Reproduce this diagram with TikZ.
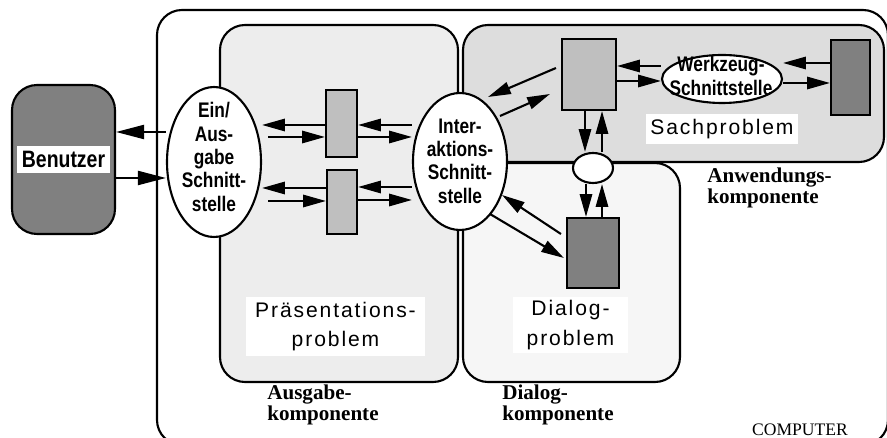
\documentclass[tikz,border=0pt]{standalone}
\usepackage{fontspec}
\setmainfont{Liberation Serif}
\newfontfamily\schmal[FakeStretch=0.82]{Liberation Sans}
\newfontfamily\weit[LetterSpace=9]{Liberation Sans}
\usetikzlibrary{calc}
\usetikzlibrary{shapes,arrows.meta}

\definecolor{dunkel}{gray}{0.5}
\definecolor{mittel}{gray}{0.75}
\definecolor{praesgrau}{gray}{0.93}
\definecolor{sachgrau}{gray}{0.865}
\definecolor{dialoggrau}{gray}{0.965}

\tikzset{
  pfeil/.style={line width=1.2pt,-{Triangle[length=13pt,width=7pt]}},
  grosspfeil/.style={line width=1.2pt,-{Triangle[length=16pt,width=8pt]}},
  kasten/.style={draw,line width=1.2pt,rounded corners=0.5cm},
  block/.style={draw,line width=1.2pt,rectangle,inner sep=0pt},
  oval/.style={draw,line width=1.2pt,ellipse,fill=white,inner sep=0pt},
  ovaltext/.style={align=center,inner sep=0pt,font=\schmal\bfseries\fontsize{12}{13.3}\selectfont},
  problem/.style={fill=white,align=center,inner sep=0pt,font=\weit\fontsize{12}{17}\selectfont},
  komp/.style={anchor=west,align=left,inner sep=0pt,font=\bfseries\fontsize{12}{10.8}\selectfont}
}

\begin{document}
\begin{tikzpicture}[x=0.02cm,y=-0.02cm]
    \useasboundingbox (0,0) rectangle (887,438);
    \draw [kasten] (157,10) rectangle (888,445);
    \draw [kasten,fill=praesgrau] (220,25) rectangle (458,382);
    \draw [kasten,fill=sachgrau] (463,25) rectangle (884,162);
    \draw [kasten,fill=dialoggrau] (463,163) rectangle (680,382);
    \node [kasten,fill=dunkel,minimum width=2.06cm,minimum height=2.98cm,inner sep=0pt]
      (benutzer) at (63.5,159.5)
      {\colorbox{white}{\schmal\bfseries\fontsize{13.5}{15}\selectfont Benutzer}};
    \node [oval,minimum width=1.88cm,minimum height=3cm] (eaus) at (214,162) {};
    \node [ovaltext] (eaustext) at (214,157) {Ein/\\Aus-\\gabe\\Schnitt-\\stelle};
    \node [oval,minimum width=1.88cm,minimum height=2.74cm] (inter) at (460,161.5) {};
    \node [ovaltext] (intertext) at (460,161) {Inter-\\aktions-\\Schnitt-\\stelle};
    \node [oval,minimum width=2.4cm,minimum height=0.96cm] (werkzeug) at (722,79) {};
    \node [ovaltext] (werkzeugtext) at (721,76) {Werkzeug-\\Schnittstelle};
    \node [oval,minimum width=0.8cm,minimum height=0.6cm] (knoten) at (593,168) {};
    \node [block,fill=mittel,minimum width=0.62cm,minimum height=1.34cm] (praes1) at (341.5,123.5) {};
    \node [block,fill=mittel,minimum width=0.6cm,minimum height=1.28cm] (praes2) at (342,202) {};
    \node [block,fill=mittel,minimum width=1.08cm,minimum height=1.42cm] (sach) at (589,74.5) {};
    \node [block,fill=dunkel,minimum width=0.78cm,minimum height=1.5cm] (werk) at (850.5,77.5) {};
    \node [block,fill=dunkel,minimum width=1.04cm,minimum height=1.4cm] (dialog) at (593,253) {};
    \node [problem,minimum width=3.04cm,minimum height=0.6cm] (sachlabel) at (722,129) {Sachproblem};
    \node [problem,minimum width=3.58cm,minimum height=1.18cm] (praeslabel) at (335.5,326.5) {Präsentations-\\problem};
    \node [problem,minimum width=2.3cm,minimum height=1.12cm] (dialoglabel) at (570.5,325) {Dialog-\\problem};
    \node [komp] (anwkomp) at (707,188) {Anwendungs-\\komponente};
    \node [komp] (auskomp) at (267,405) {Ausgabe-\\komponente};
    \node [komp] (dialkomp) at (502,405) {Dialog-\\komponente};
    \node [font=\fontsize{10}{12}\selectfont] (computer) at (800,430) {COMPUTER};
      \draw [grosspfeil] (eaus.west |- 0,132) -- (benutzer.east |- 0,132);
      \draw [grosspfeil] (benutzer.east |- 0,178) -- (eaus.west |- 0,178);
      \draw [pfeil] (praes1.west |- 0,125) -- (eaus.east |- 0,125);
      \draw [pfeil] ($(eaus.east |- 0,137)+(6,0)$) -- (praes1.west |- 0,137);
      \draw [pfeil] (inter.west |- 0,125) -- (praes1.east |- 0,125);
      \draw [pfeil] (praes1.east |- 0,137) -- (inter.west |- 0,137);
      \draw [pfeil] (praes2.west |- 0,188) -- (eaus.east |- 0,188);
      \draw [pfeil] ($(eaus.east |- 0,201)+(6,0)$) -- (praes2.west |- 0,201);
      \draw [pfeil] (inter.west |- 0,187) -- (praes2.east |- 0,187);
      \draw [pfeil] (praes2.east |- 0,200) -- (inter.west |- 0,200);
      \draw [pfeil] ($(sach.west)+(-5,-6.5)$) -- ($(inter)+(28,-64.5)$);
      \draw [pfeil] ($(inter)+(40,-45.5)$) -- ($(sach.west)+(-11,19.5)$);
      \draw [pfeil] (werkzeug.west |- 0,66) -- (sach.east |- 0,66);
      \draw [pfeil] (sach.east |- 0,81) -- (werkzeug.west |- 0,81);
      \draw [pfeil] (werk.west |- 0,63) -- (werkzeug.east |- 0,63);
      \draw [pfeil] (werkzeug.east |- 0,83) -- (werk.west |- 0,83);
      \draw [pfeil] (sach.south -| 585,0) -- (knoten.north -| 585,0);
      \draw [pfeil] (knoten.north -| 602,0) -- (sach.south -| 602,0);
      \draw [pfeil] (knoten.south -| 586,0) -- (dialog.north -| 586,0);
      \draw [pfeil] (dialog.north -| 602,0) -- (knoten.south -| 602,0);
      \draw [pfeil] ($(dialog.west)+(-5,-19)$) -- ($(inter)+(42,33.5)$);
      \draw [pfeil] ($(inter)+(30,52.5)$) -- ($(dialog.west)+(-2,5)$);
  \end{tikzpicture}
\end{document}
